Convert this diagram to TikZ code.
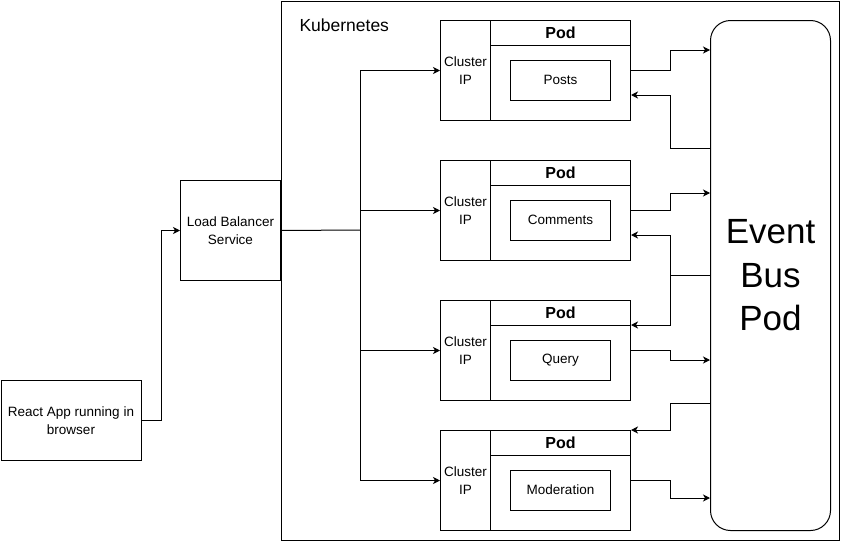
\documentclass[tikz,border=0pt]{standalone}
\usepackage{fontspec}
\setmainfont{Liberation Sans}
\usetikzlibrary{arrows.meta,calc}
\begin{document}
\begin{tikzpicture}[x=1pt,y=-1pt,
  line width=1pt,
  box/.style={draw, rectangle, inner sep=0pt, align=center, anchor=north west,
    font=\fontsize{13.5}{17.5}\selectfont},
  arr/.style={-{Stealth[length=7pt,width=7pt,inset=2pt]}},
  wire/.style={line join=miter}
]
\useasboundingbox (0,0) rectangle (841,541);

% Kubernetes frame
\node[draw, rectangle, inner sep=0pt, anchor=north west,
  minimum width=558.5pt, minimum height=539pt] (k8s) at (280.5,0.5) {};
\node[anchor=base west, inner sep=0pt, font=\fontsize{17.5}{20}\selectfont] (k8slabel) at (299,31) {Kubernetes};

% Outside boxes
\node[box, minimum width=140pt, minimum height=80pt] (react) at (0.5,380) {React App running in\\browser};
\node[box, minimum width=100pt, minimum height=100pt] (lb) at (180,180) {Load Balancer\\Service};

% Pods
\foreach \i/\y/\name in {1/20/Posts, 2/160/Comments, 3/300/Query, 4/430/Moderation}{
  \node[box, minimum width=50pt, minimum height=100pt,
    font=\fontsize{13.5}{18}\selectfont] (ci\i) at (440,\y) {Cluster\\IP};
  \node[box, minimum width=140pt, minimum height=100pt] (pb\i) at (490,\y) {};
  \node[box, minimum width=140pt, minimum height=25pt,
    font=\fontsize{16}{18}\selectfont\bfseries] (ph\i) at (490,\y) {Pod};
  \node[box, anchor=center, minimum width=100pt, minimum height=40pt] (sv\i) at ($(pb\i.north)+(0,60)$) {\name};
}

% Event bus
\node[draw, rectangle, rounded corners=20pt, inner sep=0pt, anchor=north west,
  minimum width=120pt, minimum height=510pt, align=center,
  font=\fontsize{35}{43.5}\selectfont] (bus) at (710,20) {Event\\Bus\\Pod};

% Left-side connectors
\draw[arr, wire] (react.east) -- ++(20,0) |- (lb.west);
\coordinate (hub) at (360,230);
\draw[wire] (lb.east) -- (hub);
\draw[arr, wire] (hub) |- (ci1.west);
\draw[arr, wire] (hub) |- (ci2.west);
\draw[arr, wire] (hub) |- (ci3.west);
\draw[arr, wire] (hub) |- (ci4.west);

% Right-side connectors
\coordinate (rx) at (670,0);
% Posts
\draw[arr, wire] (pb1.east) -- (rx |- pb1.east) |- (bus.west |- 0,50);
\draw[arr, wire] (bus.west |- 0,148) -- (rx |- 0,148) |- (pb1.east |- 0,95);
% Comments
\draw[arr, wire] (pb2.east) -- (rx |- pb2.east) |- (bus.west |- 0,193);
\coordinate (bj) at (670,275);
\draw[wire] (bus.west |- bj) -- (bj);
\draw[arr, wire] (bj) |- (pb2.east |- 0,235);
\draw[arr, wire] (bj) |- (pb3.east |- 0,325);
% Query
\draw[arr, wire] (pb3.east) -- (rx |- pb3.east) |- (bus.west |- 0,360);
\draw[arr, wire] (bus.west |- 0,403) -- (rx |- 0,403) |- (pb4.north east);
% Moderation
\draw[arr, wire] (pb4.east) -- (rx |- pb4.east) |- (bus.west |- 0,498);
\end{tikzpicture}
\end{document}
